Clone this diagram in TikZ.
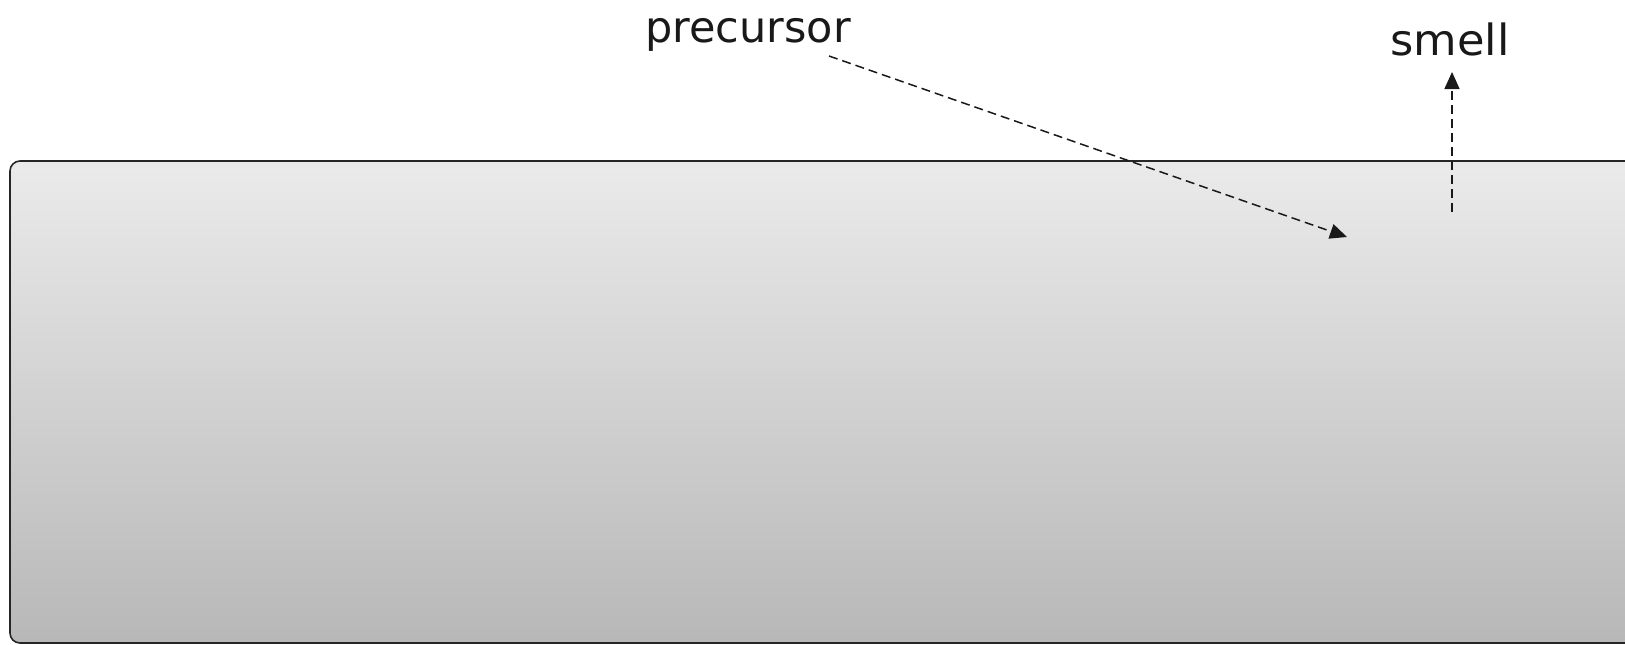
\documentclass[tikz,border=0pt]{standalone}
\usepackage{fontspec}
\setmainfont{DejaVu Sans}
\usetikzlibrary{arrows.meta}
\tikzset{
  label text/.style={inner sep=0pt, anchor=base, font=\fontsize{21.5pt}{26pt}\selectfont, text=black!90},
  flow/.style={draw=black!90, line width=0.75pt, dash pattern=on 4.5pt off 2.5pt,
               -{Triangle[length=8.5pt,width=7.5pt]}},
  panel/.style={draw=black!85, line width=0.8pt, rounded corners=5pt,
                top color=black!8, bottom color=black!28}
}
\begin{document}
\begin{tikzpicture}[x=0.5pt, y=-0.5pt]
  \useasboundingbox (0,0) rectangle (1625,644);
  % grey panel running off the right edge
  \path[panel] (10,161) rectangle (1680,643);
  % labels
  \node[label text] (prec) at (748,42) {precursor};
  \node[label text, xscale=1.04] (smell) at (1450,55) {smell};
  % arrow ends
  \coordinate (pstart) at (829,56);
  \coordinate (pend) at (1347,237);
  \coordinate (sstart) at (1452,212);
  \coordinate (send) at (1452,72);
  \draw[flow] (pstart) -- (pend);
  \draw[flow] (sstart) -- (send);
\end{tikzpicture}
\end{document}
